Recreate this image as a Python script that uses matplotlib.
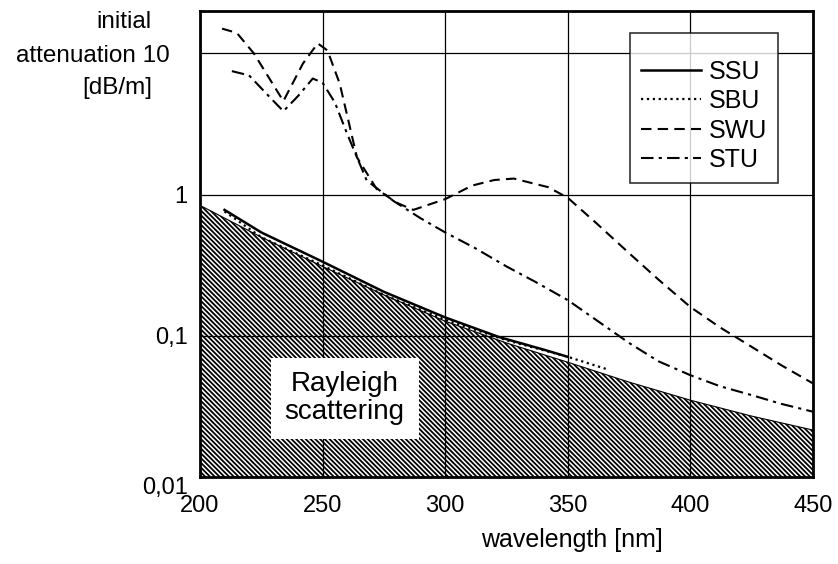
import numpy as np
import matplotlib
matplotlib.use("Agg")
import matplotlib.pyplot as plt
from matplotlib.ticker import FixedLocator, FixedFormatter, NullLocator

plt.rcParams["font.family"] = ["Liberation Sans", "DejaVu Sans"]
plt.rcParams["hatch.linewidth"] = 1.3

# ----------------------
# Data
# ----------------------
ray_wl = [200, 225, 250, 275, 300, 325, 350, 375, 400, 425, 450]
ray_att = [0.84, 0.50, 0.31, 0.195, 0.127, 0.089, 0.065, 0.047, 0.035, 0.027, 0.0215]

ssu_wl = [210, 225, 250, 275, 300, 322, 340, 350]
ssu_att = [0.78, 0.54, 0.335, 0.205, 0.135, 0.098, 0.08, 0.071]

sbu_wl = [210, 225, 250, 275, 300, 325, 350, 366]
sbu_att = [0.76, 0.50, 0.315, 0.195, 0.13, 0.093, 0.071, 0.058]

swu_wl = [209, 215, 222, 234, 242, 248, 252, 257, 264, 272, 280, 287, 300, 311, 320, 328, 342, 350,
          362, 375, 387, 400, 412, 425, 437, 450]
swu_att = [15.0, 14.0, 10.0, 4.6, 8.5, 11.8, 10.5, 6.1, 1.84, 1.1, 0.88, 0.78, 0.93, 1.16, 1.27, 1.3, 1.13, 0.95,
           0.62, 0.385, 0.25, 0.16, 0.115, 0.0835, 0.062, 0.046]

stu_wl = [213, 220, 228, 234, 240, 246, 250, 255, 260, 268, 279, 290, 300, 312, 325, 337, 350,
          362, 375, 387, 400, 412, 425, 437, 450]
stu_att = [7.5, 7.0, 5.0, 3.9, 5.0, 6.65, 6.2, 4.5, 2.7, 1.26, 0.9, 0.68, 0.54, 0.42, 0.31, 0.24, 0.179,
           0.128, 0.089, 0.066, 0.0526, 0.044, 0.038, 0.033, 0.029]

ytick_vals = [0.01, 0.1, 1, 10]
ytick_labels = ["0,01", "0,1", "1", ""]
xtick_vals = [200, 250, 300, 350, 400, 450]

# ----------------------
# Plot
# ----------------------
fig = plt.figure(figsize=(8.38, 5.64), dpi=100)
ax = fig.add_axes([200 / 838, 1 - 477 / 564, 613 / 838, 466 / 564])

ax.set_yscale("log")
ax.set_xlim(200, 450)
ax.set_ylim(0.01, 20)

# Rayleigh scattering limit (hatched, covers the grid)
ax.fill_between(ray_wl, 0.01, ray_att, facecolor="white", edgecolor="black",
                hatch="\\" * 7, linewidth=0, zorder=2.5)
ax.plot(ray_wl, ray_att, color="black", lw=0.8, zorder=2.6)

ax.plot(ssu_wl, ssu_att, "-", color="black", lw=1.8, label="SSU", zorder=3)
ax.plot(sbu_wl, sbu_att, ":", color="black", lw=1.6, label="SBU", zorder=3)
ax.plot(swu_wl, swu_att, "--", color="black", lw=1.5, dashes=(5, 3), label="SWU", zorder=3)
ax.plot(stu_wl, stu_att, "-.", color="black", lw=1.5, dashes=(6, 2.5, 1.5, 2.5), label="STU", zorder=3)

ax.xaxis.set_major_locator(FixedLocator(xtick_vals))
ax.yaxis.set_major_locator(FixedLocator(ytick_vals))
ax.yaxis.set_major_formatter(FixedFormatter(ytick_labels))
ax.yaxis.set_minor_locator(NullLocator())
ax.tick_params(length=0, labelsize=17)
ax.tick_params(axis="x", pad=13)
ax.tick_params(axis="y", pad=9)
ax.grid(True, color="black", lw=0.9, zorder=2)
ax.set_axisbelow(False)
for s in ax.spines.values():
    s.set_linewidth(2)
    s.set_zorder(4)
ax.get_yticklabels()[0].set_va("top")

ax.text(259, 0.036, "Rayleigh\nscattering", ha="center", va="center", fontsize=20,
        linespacing=1.1, zorder=5,
        bbox=dict(facecolor="white", edgecolor="none", pad=10))

leg = ax.legend(loc="upper right", bbox_to_anchor=(0.943, 0.953), fontsize=18, frameon=True,
                fancybox=False, handlelength=2.4, handletextpad=0.3, labelspacing=0.22,
                borderpad=0.45, borderaxespad=0, title=" ", title_fontsize=8)
leg.get_frame().set_edgecolor("black")
leg.get_frame().set_linewidth(1.2)
leg.set_zorder(6)

fig.text(572 / 838, 1 - 540 / 564, "wavelength [nm]", ha="center", va="center", fontsize=18)
# y axis title, with the "10" tick label written into its middle line
fig.text(152 / 838, 1 - 22 / 564, "initial", ha="right", va="center", fontsize=17.5)
fig.text(170 / 838, 1 - 56 / 564, "attenuation 10", ha="right", va="center", fontsize=17.5)
fig.text(152 / 838, 1 - 88 / 564, "[dB/m]", ha="right", va="center", fontsize=17.5)

fig.savefig("out.png", dpi=100)
